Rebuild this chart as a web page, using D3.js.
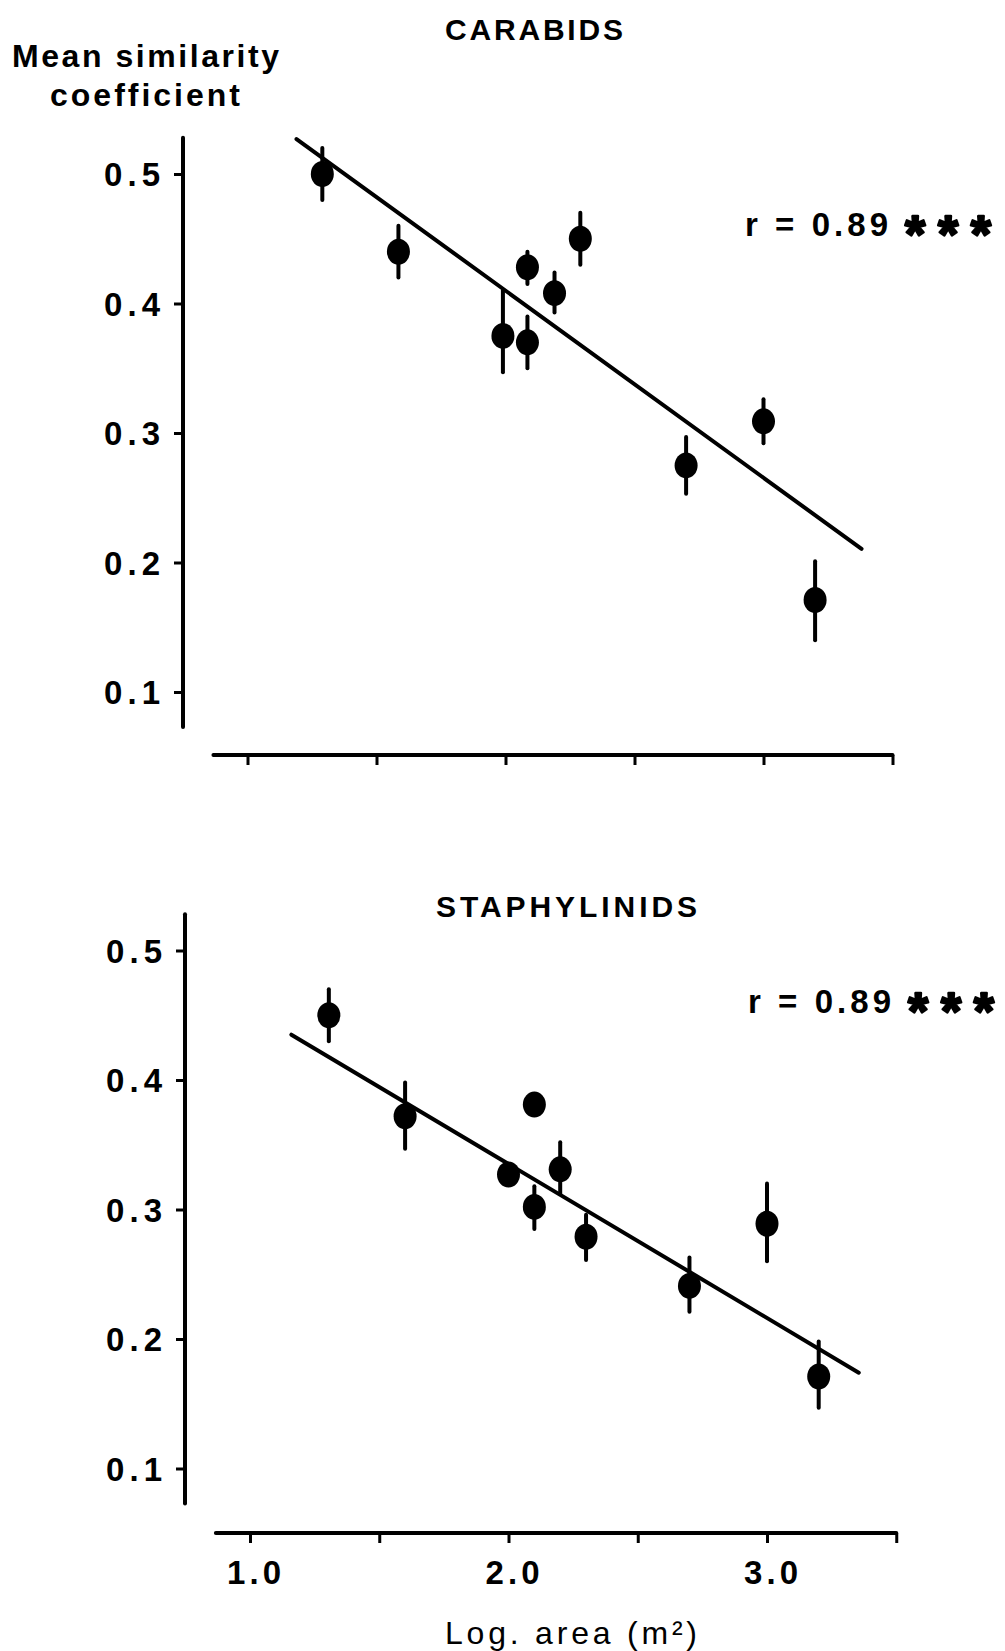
<!DOCTYPE html>
<html><head><meta charset="utf-8">
<script src="https://cdn.jsdelivr.net/npm/d3@7"></script>
<style>html,body{margin:0;padding:0;background:#fff;}svg{display:block;}</style>
</head><body>
<script>
// ---- data ----
const carabLogArea = [1.29, 1.585, 1.99, 2.085, 2.085, 2.19, 2.29, 2.70, 3.00, 3.20];
const carabMean    = [0.500, 0.440, 0.375, 0.428, 0.370, 0.408, 0.450, 0.275, 0.309, 0.171];
const carabLow     = [0.480, 0.420, 0.347, 0.415, 0.350, 0.393, 0.430, 0.253, 0.292, 0.140];
const carabHigh    = [0.520, 0.460, 0.410, 0.440, 0.390, 0.424, 0.470, 0.297, 0.326, 0.201];
const carabFitX    = [1.19, 3.38];
const carabFitY    = [0.527, 0.2105];

const staphLogArea = [1.305, 1.60, 2.00, 2.10, 2.20, 2.10, 2.30, 2.70, 3.00, 3.20];
const staphMean    = [0.450, 0.372, 0.327, 0.381, 0.331, 0.302, 0.279, 0.241, 0.289, 0.171];
const staphLow     = [0.430, 0.347, 0.322, 0.375, 0.312, 0.285, 0.261, 0.221, 0.260, 0.147];
const staphHigh    = [0.470, 0.398, 0.332, 0.388, 0.352, 0.318, 0.296, 0.263, 0.320, 0.198];
const staphFitX    = [1.16, 3.355];
const staphFitY    = [0.435, 0.174];

const yTicks = [0.1, 0.2, 0.3, 0.4, 0.5];
const xTicks = [1.0, 1.5, 2.0, 2.5, 3.0, 3.5];
const xTickLabels = ["1.0", "", "2.0", "", "3.0", ""];
const titles = ["CARABIDS", "STAPHYLINIDS"];
const rText = "r = 0.89";
const sigText = "***";

// ---- drawing ----
const W = 1005, H = 1651;
const svg = d3.select("body").append("svg").attr("width", W).attr("height", H);
const FONT = "'Liberation Sans', Arial, Helvetica, sans-serif";

function panel(cfg) {
  const g = svg.append("g");
  const x = d3.scaleLinear().domain([1, 3]).range(cfg.xr);
  const y = d3.scaleLinear().domain([0.5, 0.1]).range(cfg.yr);

  // y axis
  const yAx = g.append("g").attr("transform", `translate(${cfg.yAxisX},0)`)
    .call(d3.axisLeft(y).tickValues(yTicks).tickSize(9).tickFormat(""));
  yAx.select(".domain").remove();
  yAx.selectAll(".tick line").attr("stroke", "#000").attr("stroke-width", 3);
  g.append("line").attr("x1", cfg.yAxisX).attr("x2", cfg.yAxisX)
    .attr("y1", y(0.528)).attr("y2", y(0.073))
    .attr("stroke", "#000").attr("stroke-width", 4).attr("stroke-linecap", "round");
  // y tick labels
  g.selectAll(".ylab").data(yTicks).join("text")
    .attr("x", cfg.yAxisX - 79).attr("y", d => y(d) + 12)
    .attr("textLength", 56).attr("lengthAdjust", "spacing")
    .attr("font-family", FONT).attr("font-weight", "bold").attr("font-size", 33)
    .text(d => d.toFixed(1));

  // x axis
  const xAx = g.append("g").attr("transform", `translate(0,${cfg.xAxisY})`)
    .call(d3.axisBottom(x).tickValues(xTicks).tickSize(10).tickFormat(""));
  xAx.select(".domain").remove();
  xAx.selectAll(".tick line").attr("stroke", "#000").attr("stroke-width", 3);
  g.append("line").attr("x1", x(0.868)).attr("x2", x(3.5))
    .attr("y1", cfg.xAxisY).attr("y2", cfg.xAxisY)
    .attr("stroke", "#000").attr("stroke-width", 4).attr("stroke-linecap", "round");
  if (cfg.xLabels) {
    g.selectAll(".xlab").data(xTicks.map((t, i) => ({t, l: xTickLabels[i]})).filter(d => d.l))
      .join("text")
      .attr("x", d => x(d.t) - 23).attr("y", cfg.xAxisY + 51)
      .attr("textLength", 54).attr("lengthAdjust", "spacing")
      .attr("font-family", FONT).attr("font-weight", "bold").attr("font-size", 33)
      .text(d => d.l);
  }

  // regression line
  g.append("line")
    .attr("x1", x(cfg.fitX[0])).attr("y1", y(cfg.fitY[0]))
    .attr("x2", x(cfg.fitX[1])).attr("y2", y(cfg.fitY[1]))
    .attr("stroke", "#000").attr("stroke-width", 4).attr("stroke-linecap", "round");

  const pts = cfg.xs.map((v, i) => ({x: v, m: cfg.m[i], lo: cfg.lo[i], hi: cfg.hi[i]}));
  // error bars
  g.selectAll(".err").data(pts).join("line")
    .attr("x1", d => x(d.x)).attr("x2", d => x(d.x))
    .attr("y1", d => y(d.hi)).attr("y2", d => y(d.lo))
    .attr("stroke", "#000").attr("stroke-width", 4).attr("stroke-linecap", "round");
  // markers
  g.selectAll(".pt").data(pts).join("ellipse")
    .attr("cx", d => x(d.x)).attr("cy", d => y(d.m))
    .attr("rx", 11.5).attr("ry", 13).attr("fill", "#000");

  // title
  g.append("text").attr("x", cfg.title.x).attr("y", cfg.title.y)
    .attr("textLength", cfg.title.w).attr("lengthAdjust", "spacing")
    .attr("font-family", FONT).attr("font-weight", "bold").attr("font-size", 30)
    .text(cfg.title.t);
  // r annotation
  g.append("text").attr("x", cfg.r.x).attr("y", cfg.r.y)
    .attr("textLength", 143).attr("lengthAdjust", "spacing")
    .attr("font-family", FONT).attr("font-weight", "bold").attr("font-size", 33)
    .text(rText);
  g.append("text").attr("x", cfg.r.x + 160).attr("y", cfg.r.y + 16)
    .attr("textLength", 86).attr("lengthAdjust", "spacing")
    .attr("font-family", FONT).attr("font-weight", "bold").attr("font-size", 52)
    .attr("stroke", "#000").attr("stroke-width", 2.5).attr("stroke-linejoin", "round")
    .text(sigText);
}

panel({
  xr: [247.5, 763.5], yr: [174, 692], yAxisX: 183, xAxisY: 755,
  xs: carabLogArea, m: carabMean, lo: carabLow, hi: carabHigh,
  fitX: carabFitX, fitY: carabFitY,
  title: {t: titles[0], x: 445, y: 40, w: 178},
  r: {x: 745, y: 236}, xLabels: false
});
panel({
  xr: [250, 767], yr: [950.5, 1468.5], yAxisX: 185, xAxisY: 1533,
  xs: staphLogArea, m: staphMean, lo: staphLow, hi: staphHigh,
  fitX: staphFitX, fitY: staphFitY,
  title: {t: titles[1], x: 436, y: 917, w: 261},
  r: {x: 748, y: 1013}, xLabels: true
});

// y axis title
svg.append("text").attr("x", 12).attr("y", 67)
  .attr("textLength", 267).attr("lengthAdjust", "spacing")
  .attr("font-family", FONT).attr("font-weight", "bold").attr("font-size", 32)
  .text("Mean similarity");
svg.append("text").attr("x", 50).attr("y", 106)
  .attr("textLength", 190).attr("lengthAdjust", "spacing")
  .attr("font-family", FONT).attr("font-weight", "bold").attr("font-size", 32)
  .text("coefficient");
// x axis title
svg.append("text").attr("x", 445).attr("y", 1644)
  .attr("textLength", 252).attr("lengthAdjust", "spacing")
  .attr("font-family", FONT).attr("font-size", 32)
  .text("Log. area (m²)");
</script>
</body></html>
